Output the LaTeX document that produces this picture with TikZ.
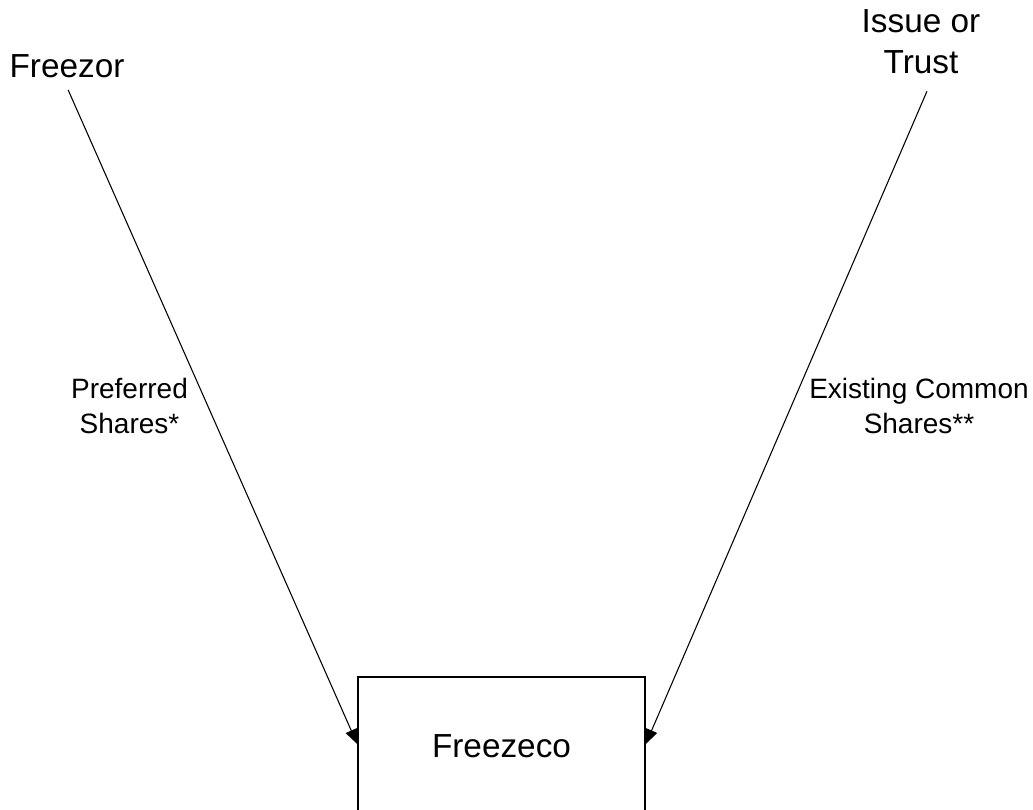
\documentclass[tikz,border=0pt]{standalone}
\usepackage{fontspec}
\setmainfont{Liberation Sans}
\usetikzlibrary{arrows.meta}

\begin{document}
\begin{tikzpicture}[
  x=0.75pt,
  y=-0.75pt,
  textblack/.style={text=black, inner sep=2pt},
  partytext/.style={
    textblack,
    font=\fontsize{25}{31}\selectfont,
    align=center
  },
  sharetext/.style={
    textblack,
    font=\fontsize{21}{26}\selectfont,
    align=center
  },
  entitybox/.style={
    draw=black,
    line width=1.2pt,
    minimum width=215.25pt,
    minimum height=103.5pt,
    font=\fontsize{25}{31}\selectfont
  },
  transfer/.style={
    line width=0.8pt,
    -{Triangle[length=11pt,width=9pt]}
  }
]

% Canvas, same size as the reference
\path[use as bounding box] (0,0) rectangle (1033,810);
\clip (0,0) rectangle (1033,810);

% Parties
\node[partytext] (freezor) at (67,66) {Freezor};

\node[partytext] (trust) at (921,42) {Issue or\\ Trust};

% Company
\node[entitybox] (freezeco) at (501.5,746) {Freezeco};

% Transfers
\draw[transfer, shorten <=7.7pt]
  ([xshift=-2.25pt]freezor.south) -- ([yshift=1.5pt]freezeco.west);

\draw[transfer, shorten <=11.5pt]
  ([xshift=9pt]trust.south) -- ([yshift=1.5pt]freezeco.east);

% Share labels
\node[sharetext] (preferred) at (129.5,406)
  {Preferred\\ Shares*};

\node[sharetext] (common) at (919,406)
  {Existing Common\\ Shares**};

\end{tikzpicture}
\end{document}
